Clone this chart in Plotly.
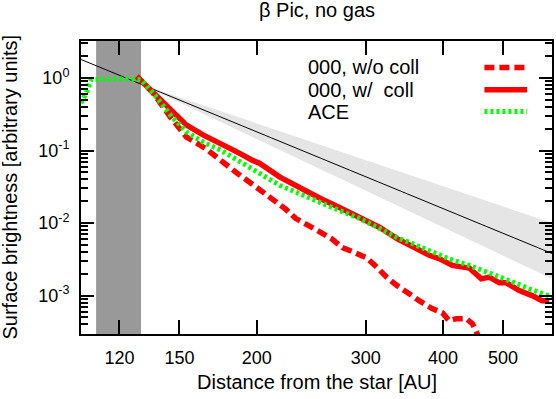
import plotly.graph_objects as go

# ----------------------------------------------------------
# Data
# ----------------------------------------------------------

# 000, without collisions
nc_r = [128, 136, 145, 154, 165, 173, 186, 197, 203, 214, 223, 231, 241,
        252, 264, 275, 288, 301, 312, 324, 336, 348, 366, 384, 399, 409,
        420, 436, 446, 462]
nc_sb = [1.05, 0.62, 0.29, 0.153, 0.108, 0.078, 0.0485, 0.034, 0.028,
         0.0205, 0.0154, 0.0116, 0.0093, 0.0077, 0.0061, 0.0046, 0.0039,
         0.0033, 0.0025, 0.0018, 0.0014, 0.00112, 0.00085, 0.00066,
         0.00058, 0.00045, 0.00048, 0.00048, 0.00041, 0.00022]

# 000, with collisions
wc_r = [128, 136, 145, 154, 164, 175, 186, 197, 202, 218, 235, 253, 272,
        293, 316, 337, 353, 380, 395, 414, 441, 461, 475, 493, 506, 531,
        557, 578, 593]
wc_sb = [1.05, 0.64, 0.36, 0.224, 0.163, 0.126, 0.095, 0.073, 0.067,
         0.043, 0.030, 0.022, 0.0164, 0.0119, 0.0087, 0.0061, 0.0049,
         0.0036, 0.0032, 0.0026, 0.0024, 0.0017, 0.0018, 0.0015, 0.0015,
         0.00117, 0.0010, 0.00085, 0.00085]

# ACE
ace_r = [104, 106, 108, 112, 120, 127, 130, 136, 145, 154, 164, 175, 186,
         197, 202, 218, 235, 253, 272, 293, 316, 337, 353, 380, 409, 441,
         475, 512, 551, 604]
ace_sb = [0.45, 0.62, 0.95, 0.97, 0.97, 0.97, 0.94, 0.62, 0.31, 0.18,
          0.13, 0.101, 0.073, 0.053, 0.0485, 0.033, 0.0257, 0.0193, 0.0149,
          0.0116, 0.0084, 0.0063, 0.0054, 0.0042, 0.0032, 0.0026, 0.0020,
          0.0016, 0.00124, 0.00094]

# power-law fit and its uncertainty wedge
fit_r = [104, 600]
fit_sb = [1.8, 0.0038]
wedge_r = [130, 600]
wedge_hi = [0.82, 0.0100]
wedge_lo = [0.82, 0.0017]

# region hidden by the coronagraph
gap_r = [110, 130]

x_ticks = [120, 150, 200, 300, 400, 500]
y_ticks = [1e-3, 1e-2, 1e-1, 1]
y_labels = ["10<sup>-3</sup>", "10<sup>-2</sup>",
            "10<sup>-1</sup>", "10<sup>0</sup>"]

series_names = ["000, w/o coll", "000, w/\u00a0 coll", "ACE"]

FONT = "Liberation Sans, Arial, sans-serif"
RED = "#ff0000"
GREEN = "#00ff00"

# ----------------------------------------------------------
# Figure
# ----------------------------------------------------------

fig = go.Figure()

fig.add_trace(go.Scatter(
    x=[wedge_r[0], wedge_r[1], wedge_r[1], wedge_r[0]],
    y=[wedge_hi[0], wedge_hi[1], wedge_lo[1], wedge_lo[0]],
    fill="toself", fillcolor="#e5e5e5", mode="lines",
    line=dict(width=0), hoverinfo="skip", showlegend=False,
))

fig.add_trace(go.Scatter(
    x=fit_r, y=fit_sb, mode="lines",
    line=dict(color="black", width=1), showlegend=False,
))

styles = [
    dict(color=RED, width=5.5, dash="10px,5px"),
    dict(color=RED, width=5.5),
    dict(color=GREEN, width=5, dash="3px,3px"),
]

for r, sb, style in zip([nc_r, wc_r, ace_r], [nc_sb, wc_sb, ace_sb], styles):
    fig.add_trace(go.Scatter(
        x=r, y=sb, mode="lines", line=style, showlegend=False,
    ))

fig.add_shape(
    type="rect", xref="x", yref="paper",
    x0=gap_r[0], x1=gap_r[1], y0=0, y1=1,
    fillcolor="#999999", line=dict(width=0), layer="below",
)

# legend: text on the left, line sample on the right
legend_y = [0.9096, 0.834, 0.759]
for name, style, ly in zip(series_names, styles, legend_y):
    fig.add_annotation(
        text=name, xref="paper", yref="paper", x=0.478, y=ly,
        xanchor="left", yanchor="middle", showarrow=False,
        font=dict(size=20, color="black"),
    )
    fig.add_shape(
        type="line", xref="paper", yref="paper",
        x0=0.8565, x1=0.947, y0=ly, y1=ly, line=style,
    )

# title and axis titles
fig.add_annotation(
    text="\u03b2 Pic, no gas", xref="paper", yref="paper",
    x=0.5, y=1, yshift=31, yanchor="middle", showarrow=False,
    font=dict(size=20, color="black"),
)
fig.add_annotation(
    text="Distance from the star [AU]", xref="paper", yref="paper",
    x=0.5, y=0, yshift=-48, yanchor="middle", showarrow=False,
    font=dict(size=20, color="black"),
)
fig.add_annotation(
    text="Surface brightness [arbitrary units]", xref="paper", yref="paper",
    x=0, y=0.5, xshift=-72, xanchor="center", yanchor="middle",
    textangle=-90, showarrow=False,
    font=dict(size=20, color="black"),
)

fig.update_layout(
    width=556, height=399,
    margin=dict(l=81, r=2, t=41, b=65),
    paper_bgcolor="white", plot_bgcolor="white",
    font=dict(family=FONT, size=18, color="black"),
    showlegend=False,
    xaxis=dict(
        type="log", range=[2.017, 2.778],
        tickvals=x_ticks, ticktext=[str(v) for v in x_ticks],
        ticks="inside", ticklen=14, tickwidth=2, tickcolor="black",
        showline=True, linewidth=2, linecolor="black", mirror="allticks",
        showgrid=False, zeroline=False,
        ticklabelstandoff=6,
    ),
    yaxis=dict(
        type="log", range=[-3.53, 0.51],
        tickvals=y_ticks, ticktext=y_labels,
        ticks="inside", ticklen=13, tickwidth=2, tickcolor="black",
        showline=True, linewidth=2, linecolor="black", mirror="allticks",
        showgrid=False, zeroline=False,
        ticklabelstandoff=6,
        minor=dict(ticks="inside", ticklen=7, tickwidth=1.5,
                   tickcolor="black", dtick="D1", showgrid=False),
    ),
)

# the page's default body margin would push the figure off the window
fig.write_html(
    "out.html",
    config={"displayModeBar": False},
    post_script="document.body.style.margin='0';",
)
